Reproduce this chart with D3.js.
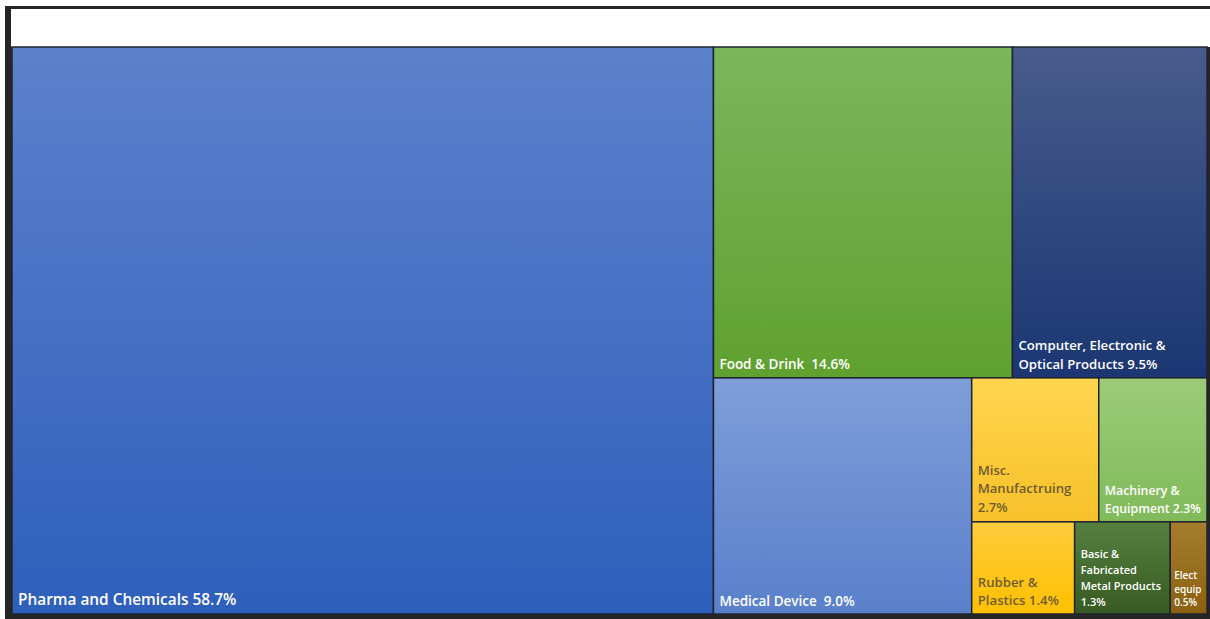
<!DOCTYPE html>
<html>
<head>
<meta charset="utf-8">
<script src="https://cdn.jsdelivr.net/npm/d3@7"></script>
<style>
html,body{margin:0;padding:0;background:#fff;}
svg{display:block;}
text{white-space:pre;}
</style>
</head>
<body>
<svg id="chart" width="1210" height="619"></svg>
<script>
const categories = ["Pharma and Chemicals","Food & Drink","Computer, Electronic & Optical Products","Medical Device","Misc. Manufactruing","Machinery & Equipment","Rubber & Plastics","Basic & Fabricated Metal Products","Elect equip"];
const values = [58.7,14.6,9.5,9.0,2.7,2.3,1.4,1.3,0.5];
const labelLines = [
  ["Pharma and Chemicals 58.7%"],
  ["Food & Drink  14.6%"],
  ["Computer, Electronic &","Optical Products 9.5%"],
  ["Medical Device  9.0%"],
  ["Misc.","Manufactruing","2.7%"],
  ["Machinery &","Equipment 2.3%"],
  ["Rubber &","Plastics 1.4%"],
  ["Basic &","Fabricated","Metal Products","1.3%"],
  ["Elect","equip","0.5%"]
];
const colorTop = ["#5c81cc","#7cb65c","#485c8c","#7f9ed9","#ffd54f","#9dcb79","#ffcb3c","#56803f","#a67c2e"];
const colorBot = ["#2e5fbb","#5fa12f","#1b3673","#5a80cc","#f7c12a","#80ba5a","#ffc000","#375a22","#8a6010"];
const textColor = ["#fff","#fff","#fff","#fff","#6e5c2e","#fff","#6e5c2e","#fff","#fff"];
const fontSize = [15.4,13.5,13.2,13.5,13.1,12.3,13.2,11,10];
const lineH = [18,18,18.5,18,18.5,17.5,18.5,16,13.5];
const bottomPad = [9,9,9,8,10,9,9,8,8];

const svg = d3.select("#chart");
// frame
svg.append("rect").attr("x",5).attr("y",6).attr("width",1210).attr("height",620).attr("fill","#262626");
svg.append("rect").attr("x",11).attr("y",9).attr("width",1210).attr("height",38).attr("fill","#fff");

const X0 = 12, Y0 = 47, W = 1195, H = 567;
const data = {name:"root", children: categories.map((c,i)=>({name:c, value:values[i], idx:i}))};
const root = d3.hierarchy(data).sum(d=>d.value||0).sort((a,b)=>b.value-a.value);
d3.treemap().tile(d3.treemapBinary).size([W,H]).round(false)(root);

const defs = svg.append("defs");
categories.forEach((c,i)=>{
  const g = defs.append("linearGradient").attr("id","g"+i).attr("x1",0).attr("y1",0).attr("x2",0).attr("y2",1);
  g.append("stop").attr("offset","0%").attr("stop-color",colorTop[i]);
  g.append("stop").attr("offset","100%").attr("stop-color",colorBot[i]);
});

const g = svg.append("g").attr("transform",`translate(${X0},${Y0})`);
const leaves = g.selectAll("g.leaf").data(root.leaves()).join("g").attr("class","leaf");
leaves.append("rect")
  .attr("x",d=>d.x0).attr("y",d=>d.y0)
  .attr("width",d=>d.x1-d.x0).attr("height",d=>d.y1-d.y0)
  .attr("fill",d=>`url(#g${d.data.idx})`)
  .attr("stroke","#1f2530").attr("stroke-width",1.5);
leaves.each(function(d){
  const i = d.data.idx;
  const lines = labelLines[i];
  const n = lines.length;
  const t = d3.select(this).append("text")
    .attr("font-family","'Open Sans', sans-serif")
    .attr("font-weight",600)
    .attr("font-size",fontSize[i])
    .attr("fill",textColor[i]);
  const pad = i===8 ? 4 : 6;
  lines.forEach((s,k)=>{
    t.append("tspan").attr("x",d.x0+pad)
      .attr("y",d.y1-bottomPad[i]-(n-1-k)*lineH[i])
      .text(s);
  });
});
</script>
</body>
</html>
